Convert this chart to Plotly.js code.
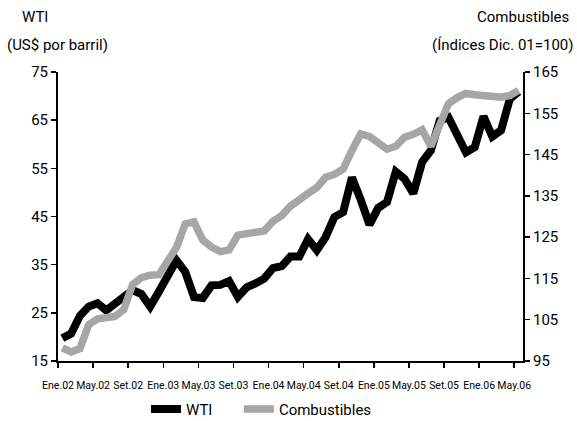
<!DOCTYPE html>
<html>
<head>
<meta charset="utf-8">
<script src="https://cdn.plot.ly/plotly-3.0.1.min.js"></script>
<style>html,body{margin:0;padding:0;background:#fff;}#chart{width:577px;height:421px;}</style>
</head>
<body>
<div id="chart"></div>
<script>
// Monthly data, Ene.02 .. May.06
const months = ["Ene.02","Feb.02","Mar.02","Abr.02","May.02","Jun.02","Jul.02","Ago.02","Set.02","Oct.02","Nov.02","Dic.02",
  "Ene.03","Feb.03","Mar.03","Abr.03","May.03","Jun.03","Jul.03","Ago.03","Set.03","Oct.03","Nov.03","Dic.03",
  "Ene.04","Feb.04","Mar.04","Abr.04","May.04","Jun.04","Jul.04","Ago.04","Set.04","Oct.04","Nov.04","Dic.04",
  "Ene.05","Feb.05","Mar.05","Abr.05","May.05","Jun.05","Jul.05","Ago.05","Set.05","Oct.05","Nov.05","Dic.05",
  "Ene.06","Feb.06","Mar.06","Abr.06","May.06"];
const wti = [19.7,20.7,24.4,26.3,27.0,25.5,26.9,28.4,29.7,28.9,26.3,29.4,
  32.9,35.9,33.5,28.3,28.1,30.7,30.8,31.6,28.3,30.3,31.1,32.1,
  34.3,34.7,36.7,36.7,40.3,38.0,40.7,44.9,45.9,53.1,48.5,43.3,
  46.8,48.0,54.3,52.8,49.8,56.3,58.7,64.9,65.6,62.3,58.3,59.4,
  65.8,61.6,62.9,69.4,70.9];
const combustibles = [98.2,97.2,98.0,103.8,105.2,105.5,105.8,107.5,113.5,115.2,115.8,115.9,
  119.5,122.5,128.2,128.7,124.3,122.6,121.5,121.9,125.5,125.9,126.1,126.5,
  128.8,130.2,132.5,134.3,135.6,137.0,139.5,140.2,141.5,146.0,150.0,149.4,
  148.0,146.3,147.0,149.2,149.9,151.0,147.0,152.5,157.3,158.8,159.8,159.5,
  159.3,159.1,158.9,159.3,160.5];
const tickLabels = ["Ene.02","May.02","Set.02","Ene.03","May.03","Set.03","Ene.04","May.04","Set.04","Ene.05","May.05","Set.05","Ene.06","May.06"];

const idx = months.map((m,i)=>i);
const tickVals = tickLabels.map(l => months.indexOf(l) - 0.5);
const FONT = "Roboto, 'DejaVu Sans', sans-serif";

const traces = [
  {x: idx, y: wti, name: "WTI", type: "scatter", mode: "lines",
   line: {color: "#000000", width: 8}, yaxis: "y", legend: "legend"},
  {x: idx, y: combustibles, name: "Combustibles", type: "scatter", mode: "lines",
   line: {color: "#a6a6a6", width: 7.5}, yaxis: "y2", legend: "legend2"}
];

const legendBase = {orientation: "h", xref: "container", yref: "container", xanchor: "left",
  yanchor: "middle", y: 0.028, bgcolor: "rgba(0,0,0,0)",
  font: {family: FONT, size: 15, color: "#000"}};

const layout = {
  width: 577, height: 421,
  margin: {l: 58, r: 54, t: 72, b: 60, pad: 0},
  paper_bgcolor: "#fff", plot_bgcolor: "#fff",
  font: {family: FONT, color: "#000", size: 15},
  showlegend: true,
  legend: Object.assign({}, legendBase, {x: 0.253}),
  legend2: Object.assign({}, legendBase, {x: 0.414}),
  xaxis: {range: [-0.5, 52.5], tickmode: "array", tickvals: tickVals, ticktext: tickLabels,
          tickangle: 0, ticklabelstandoff: 8,
          ticks: "outside", ticklen: 5, tickwidth: 1.5, tickcolor: "#000",
          showline: true, linecolor: "#000", linewidth: 2, showgrid: false, zeroline: false,
          tickfont: {family: FONT, size: 10.5, color: "#000"}, fixedrange: true},
  yaxis: {range: [15, 75], dtick: 10, tick0: 15, ticks: "outside", ticklen: 5, tickwidth: 1.5,
          tickcolor: "#000", showline: true, linecolor: "#000", linewidth: 2, showgrid: false,
          zeroline: false, tickfont: {family: FONT, size: 15, color: "#000"}},
  yaxis2: {range: [95, 165], dtick: 10, tick0: 95, overlaying: "y", side: "right",
           ticks: "outside", ticklen: 5, tickwidth: 1.5, tickcolor: "#000", showline: true,
           linecolor: "#000", linewidth: 2, showgrid: false, zeroline: false,
           tickfont: {family: FONT, size: 15, color: "#000"}},
  annotations: [
    {text: "WTI", xref: "paper", yref: "paper", x: -0.05, y: 1.19, xanchor: "center", yanchor: "middle",
     showarrow: false, font: {family: FONT, size: 15}},
    {text: "(US$ por barril)", xref: "paper", yref: "paper", x: -0.115, y: 1.095, xanchor: "left", yanchor: "middle",
     showarrow: false, font: {family: FONT, size: 15}},
    {text: "Combustibles", xref: "paper", yref: "paper", x: 1.0, y: 1.19, xanchor: "center", yanchor: "middle",
     showarrow: false, font: {family: FONT, size: 15}},
    {text: "(Índices Dic. 01=100)", xref: "paper", yref: "paper", x: 1.115, y: 1.095, xanchor: "right", yanchor: "middle",
     showarrow: false, font: {family: FONT, size: 15}}
  ]
};

Plotly.newPlot("chart", traces, layout, {displayModeBar: false, staticPlot: true});
</script>
</body>
</html>
